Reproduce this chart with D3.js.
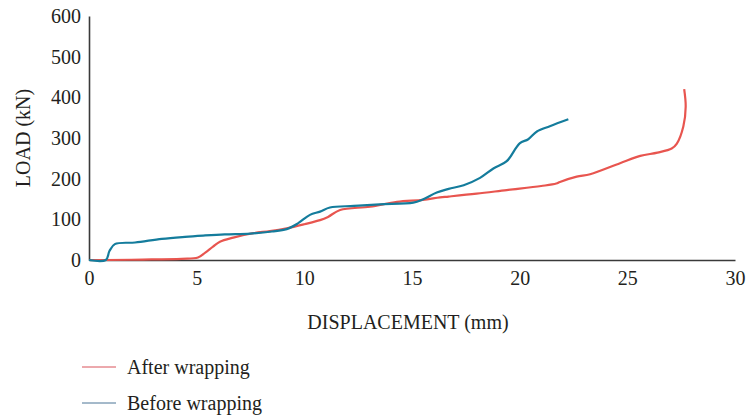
<!DOCTYPE html>
<html>
<head>
<meta charset="utf-8">
<script src="https://cdn.jsdelivr.net/npm/d3@7"></script>
<style>
  html, body { margin: 0; padding: 0; background: #fff; }
  svg text { font-family: "Liberation Serif", "DejaVu Serif", serif; fill: #231f20; }
</style>
</head>
<body>
<svg id="chart" width="746" height="419"></svg>
<script>
// Data
const seriesNames = ["After wrapping", "Before wrapping"];
const seriesColors = ["#e8554f", "#147c9c"];
const legendColors = ["#d9525a", "#4a7596"];

const afterX = [0, 0.8, 2.5, 4.3, 5.06, 5.4, 5.76, 6.08, 6.7, 7.63, 8.4, 9.18, 10.0, 10.73, 11.1, 11.66, 13.05, 14.3, 15.5, 16.3, 16.7, 18.0, 19.4, 21.0, 21.7, 21.87, 22.65, 23.27, 24.66, 25.6, 26.4, 27.06, 27.3, 27.6, 27.71, 27.64];
const afterY = [0, 0, 1, 3, 6, 18, 33, 45, 55, 66, 71, 78, 88, 98, 106, 123, 131, 143, 148, 154, 156, 163, 172, 182, 188, 192, 205, 211, 238, 256, 264, 274, 286, 328, 377, 420];

const beforeX = [0, 0.78, 0.95, 1.2, 2.14, 3.38, 4.46, 5.3, 6.3, 7.48, 8.5, 9.18, 9.7, 10.26, 10.73, 11.19, 12.3, 13.5, 15.06, 15.5, 16.15, 16.7, 17.4, 18.16, 18.78, 19.4, 20.0, 20.4, 20.8, 21.4, 22.26];
const beforeY = [0, 0, 22, 39, 43, 52, 57, 60, 63, 65, 70, 76, 90, 111, 119, 129, 133, 137, 141, 149, 166, 175, 184, 202, 225, 243, 287, 297, 316, 329, 346];

const xTicks = [0, 5, 10, 15, 20, 25, 30];
const yTicks = [0, 100, 200, 300, 400, 500, 600];
const xTitle = "DISPLACEMENT (mm)";
const yTitle = "LOAD (kN)";

const svg = d3.select("#chart");
const mLeft = 89, mRight = 735, mTop = 16, mBottom = 260;
const fs = 20;

const x = d3.scaleLinear().domain([0, 30]).range([mLeft, mRight]);
const y = d3.scaleLinear().domain([0, 600]).range([mBottom, mTop]);

// Axes
const xAxis = d3.axisBottom(x).tickValues(xTicks).tickSize(0).tickPadding(11).tickFormat(d3.format("d"));
const yAxis = d3.axisLeft(y).tickValues(yTicks).tickSize(0).tickPadding(8).tickFormat(d3.format("d"));

const gx = svg.append("g").attr("transform", `translate(0,${mBottom})`).call(xAxis);
const gy = svg.append("g").attr("transform", `translate(${mLeft},0)`).call(yAxis);
[gx, gy].forEach(g => {
  g.select(".domain").attr("stroke", "#3a3a3a").attr("stroke-width", 1.6);
  g.selectAll("text").attr("font-size", fs).attr("font-family", "Liberation Serif").attr("fill", "#231f20");
});

// Axis titles
svg.append("text")
  .attr("x", 408).attr("y", 329)
  .attr("text-anchor", "middle").attr("font-size", fs)
  .text(xTitle);
svg.append("text")
  .attr("transform", `translate(30,138) rotate(-90)`)
  .attr("text-anchor", "middle").attr("font-size", fs)
  .text(yTitle);

// Lines
const line = d3.line().x(d => x(d[0])).y(d => y(d[1])).curve(d3.curveCatmullRom.alpha(0.5));
const seriesData = [
  d3.zip(afterX, afterY),
  d3.zip(beforeX, beforeY)
];
seriesData.forEach((pts, i) => {
  svg.append("path").datum(pts)
    .attr("fill", "none")
    .attr("stroke", seriesColors[i])
    .attr("stroke-width", 2.2)
    .attr("stroke-linejoin", "round")
    .attr("d", line);
});

// Legend
const legendY = [367, 403];
seriesNames.forEach((name, i) => {
  svg.append("line")
    .attr("x1", 82).attr("x2", 116)
    .attr("y1", legendY[i]).attr("y2", legendY[i])
    .attr("stroke", legendColors[i]).attr("stroke-width", 1);
  svg.append("text")
    .attr("x", 127).attr("y", legendY[i]).attr("dy", "0.33em")
    .attr("font-size", fs)
    .text(name);
});
</script>
</body>
</html>
